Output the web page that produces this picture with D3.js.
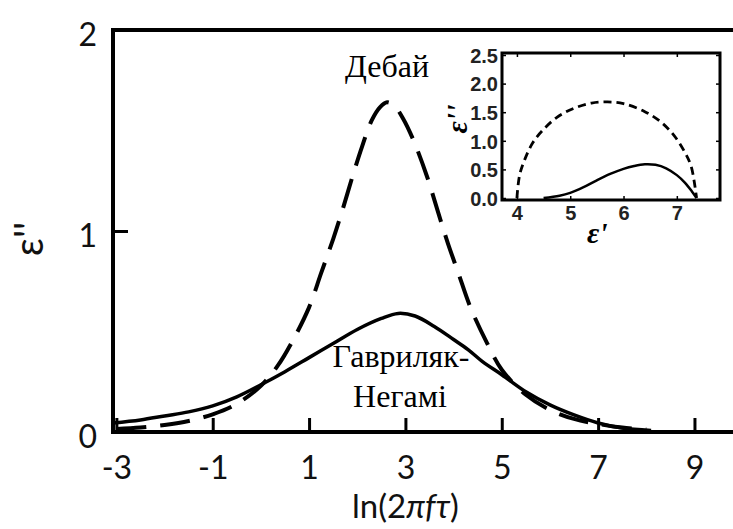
<!DOCTYPE html>
<html><head><meta charset="utf-8">
<script src="https://cdn.jsdelivr.net/npm/d3@7"></script>
<style>body{margin:0;background:#fff}svg{display:block}</style>
</head><body>
<svg id="c" width="733" height="529"></svg>
<script>
// ---- main chart data ----
const xTicks = [-3, -1, 1, 3, 5, 7, 9];
const yTicks = [0, 1, 2];
const debyeX = [-3.0,-2.5,-2.0,-1.5,-1.0,-0.5,0.0,0.35,0.65,1.0,1.25,1.5,1.7,1.9,2.1,2.3,2.47,2.62,2.78,2.95,3.17,3.45,3.67,3.88,4.1,4.35,4.7,5.0,5.5,6.0,6.5,7.0,7.5,8.0];
const debyeY = [0.015,0.022,0.035,0.055,0.088,0.14,0.23,0.33,0.45,0.62,0.79,0.96,1.11,1.27,1.42,1.55,1.615,1.64,1.62,1.56,1.45,1.27,1.10,0.94,0.79,0.62,0.44,0.31,0.185,0.11,0.065,0.04,0.022,0.012];
const hnX = [-3.07,-2.5,-2.0,-1.5,-1.0,-0.5,0.0,0.5,1.0,1.5,2.0,2.5,2.85,3.2,3.6,4.0,4.3,4.6,5.0,5.5,6.0,6.5,7.0,7.5,8.1];
const hnY = [0.045,0.06,0.08,0.10,0.13,0.175,0.235,0.30,0.37,0.44,0.51,0.565,0.59,0.577,0.525,0.46,0.41,0.35,0.285,0.20,0.135,0.085,0.045,0.02,0.008];
// ---- inset data ----
const inXTicks = [4, 5, 6, 7];
const inYTicks = [0, 0.5, 1.0, 1.5, 2.0, 2.5];
const ccDebyeX = [4.0,4.05,4.15,4.3,4.5,4.75,5.05,5.4,5.7,6.0,6.4,6.7,6.95,7.15,7.27,7.37];
const ccDebyeY = [0.0,0.4,0.68,0.97,1.2,1.41,1.56,1.66,1.68,1.65,1.51,1.33,1.09,0.8,0.55,0.0];
const ccHnX = [4.5,4.8,5.0,5.25,5.5,5.75,6.0,6.2,6.4,6.6,6.8,7.0,7.15,7.28,7.37];
const ccHnY = [0.0,0.04,0.09,0.19,0.31,0.42,0.51,0.56,0.59,0.58,0.52,0.40,0.27,0.12,0.0];

const svg = d3.select("#c");
const x = d3.scaleLinear().domain([-3.07, 9.8]).range([113, 733]);
const y = d3.scaleLinear().domain([0, 2]).range([432, 30]);

const tickFont = "Lato, 'Open Sans', sans-serif";

// x axis
const gx = svg.append("g").attr("transform", `translate(0,${y(0)})`)
  .call(d3.axisBottom(x).tickValues(xTicks).tickSizeInner(-14).tickSizeOuter(0).tickFormat(d3.format("d")));
gx.select(".domain").remove();
gx.selectAll(".tick line").attr("stroke", "#000").attr("stroke-width", 3);
gx.selectAll(".tick text").attr("y", 47).attr("dy", 0)
  .attr("font-family", tickFont).attr("font-size", 32).attr("fill", "#111")
  .text(d => d < 0 ? "-" + Math.abs(d) : d);

// y axis
const gy = svg.append("g").attr("transform", `translate(${x.range()[0]},0)`)
  .call(d3.axisLeft(y).tickValues(yTicks).tickSizeInner(-15).tickSizeOuter(0).tickPadding(16).tickFormat(d3.format("d")));
gy.select(".domain").remove();
gy.selectAll(".tick line").attr("stroke", "#000").attr("stroke-width", 3);
gy.selectAll(".tick text").attr("dy", 15)
  .attr("font-family", tickFont).attr("font-size", 32).attr("fill", "#111");

// frame
svg.append("path")
  .attr("d", `M${x.range()[1]},${y(2)}H${x.range()[0]}V${y(0)}H${x.range()[1]}`)
  .attr("fill", "none").attr("stroke", "#000").attr("stroke-width", 4);

// curves
const line = d3.line().x(d => x(d[0])).y(d => y(d[1])).curve(d3.curveCatmullRom.alpha(0.5));
svg.append("path").datum(d3.zip(hnX, hnY)).attr("d", line)
  .attr("fill", "none").attr("stroke", "#000").attr("stroke-width", 3.5);
svg.append("path").datum(d3.zip(debyeX, debyeY)).attr("d", line)
  .attr("fill", "none").attr("stroke", "#000").attr("stroke-width", 4)
  .attr("stroke-dasharray", "30,14");

// axis titles
svg.append("text").attr("x", x(3)).attr("y", 518).attr("text-anchor", "middle")
  .attr("font-family", tickFont).attr("font-size", 33).attr("fill", "#111")
  .call(t => { t.append("tspan").text("ln(2"); t.append("tspan").attr("font-style", "italic").text("πfτ"); t.append("tspan").text(")"); });
svg.append("text").attr("transform", "translate(43,239) rotate(-90)").attr("text-anchor", "middle")
  .attr("font-family", tickFont).attr("font-size", 40).attr("fill", "#111").text("ε''");

// annotations
const serif = "'Liberation Serif', 'Times New Roman', serif";
svg.append("text").attr("x", 387).attr("y", 77).attr("text-anchor", "middle")
  .attr("font-family", serif).attr("font-size", 32).text("Дебай");
svg.append("text").attr("x", 401).attr("y", 367).attr("text-anchor", "middle")
  .attr("font-family", serif).attr("font-size", 32).text("Гавриляк-");
svg.append("text").attr("x", 400).attr("y", 407).attr("text-anchor", "middle")
  .attr("font-family", serif).attr("font-size", 32).text("Негамі");

// ---- inset ----
const xi = d3.scaleLinear().domain([3.72, 7.81]).range([502, 720]);
const yi = d3.scaleLinear().domain([-0.035, 2.535]).range([200, 53]);
const gi = svg.append("g");
const bold = "'Liberation Sans', Arial, sans-serif";
gi.append("rect").attr("x", xi.range()[0]).attr("y", yi.range()[1])
  .attr("width", xi.range()[1] - xi.range()[0]).attr("height", yi.range()[0] - yi.range()[1])
  .attr("fill", "#fff").attr("stroke", "#000").attr("stroke-width", 3);
const ilx = gi.append("g").attr("transform", `translate(0,${yi.range()[0]})`)
  .call(d3.axisBottom(xi).tickValues(inXTicks).tickSizeInner(-4).tickSizeOuter(0).tickFormat(d3.format("d")));
ilx.select(".domain").remove();
ilx.selectAll(".tick text").attr("y", 20).attr("dy", 0).attr("font-family", bold).attr("font-weight", "bold").attr("font-size", 20).attr("fill", "#222");
const itx = gi.append("g").attr("transform", `translate(0,${yi.range()[1]})`)
  .call(d3.axisTop(xi).tickValues(inXTicks).tickSizeInner(-4).tickSizeOuter(0).tickFormat(""));
itx.select(".domain").remove();
const ily = gi.append("g").attr("transform", `translate(${xi.range()[0]},0)`)
  .call(d3.axisLeft(yi).tickValues(inYTicks).tickSizeInner(-4).tickSizeOuter(0).tickPadding(4).tickFormat(d3.format(".1f")));
ily.select(".domain").remove();
ily.selectAll(".tick text").attr("dy", "0.36em").attr("font-family", bold).attr("font-weight", "bold").attr("font-size", 20).attr("fill", "#222");
const iry = gi.append("g").attr("transform", `translate(${xi.range()[1]},0)`)
  .call(d3.axisRight(yi).tickValues(inYTicks).tickSizeInner(-4).tickSizeOuter(0).tickFormat(""));
iry.select(".domain").remove();
gi.selectAll(".tick line").attr("stroke", "#000").attr("stroke-width", 1.5);

const iline = d3.line().x(d => xi(d[0])).y(d => yi(d[1])).curve(d3.curveCatmullRom.alpha(0.5));
gi.append("path").datum(d3.zip(ccHnX, ccHnY)).attr("d", iline)
  .attr("fill", "none").attr("stroke", "#000").attr("stroke-width", 2.5);
gi.append("path").datum(d3.zip(ccDebyeX, ccDebyeY)).attr("d", iline)
  .attr("fill", "none").attr("stroke", "#000").attr("stroke-width", 2.8).attr("stroke-dasharray", "8,5");

gi.append("text").attr("transform", "translate(467,119) rotate(-90)").attr("text-anchor", "middle")
  .attr("font-family", serif).attr("font-style", "italic").attr("font-weight", "bold").attr("font-size", 30).text("ε''");
gi.append("text").attr("x", 587).attr("y", 243)
  .attr("font-family", serif).attr("font-style", "italic").attr("font-weight", "bold").attr("font-size", 30).text("ε'");
</script>
</body></html>
